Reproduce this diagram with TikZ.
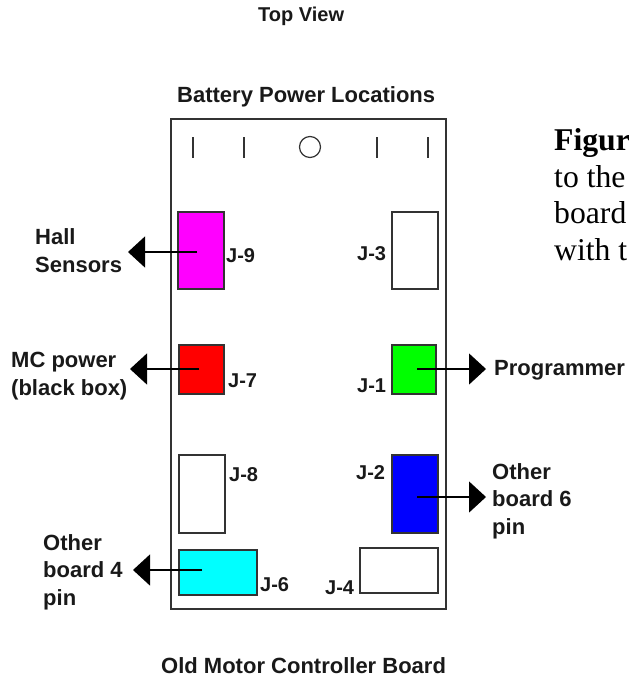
\documentclass[tikz,border=0pt]{standalone}
\usepackage{fontspec}
\setmainfont{Liberation Sans}
\newfontfamily\serifface{Liberation Serif}
\usetikzlibrary{arrows.meta}

\definecolor{boardline}{HTML}{333333}
\definecolor{hallpink}{HTML}{FF00FF}
\definecolor{powerred}{HTML}{FF0000}
\definecolor{proggreen}{HTML}{00FF00}
\definecolor{sixblue}{HTML}{0000FF}
\definecolor{fourcyan}{HTML}{00FFFF}
\tikzset{
  jack/.style={draw=boardline, line width=1.3pt, inner sep=0pt},
  lead/.style={line width=1.2pt, -{Triangle[length=17pt,width=31pt]}},
  lbl/.style={inner sep=0pt, align=left, anchor=base west,
    font=\fontsize{22}{27.5}\selectfont\bfseries, text=black!90},
  jlbl/.style={lbl, font=\fontsize{20}{24}\selectfont\bfseries}
}

\begin{document}
\begin{tikzpicture}[x=1pt,y=-1pt]
        \useasboundingbox (0,0) rectangle (629,678);

        \node[jack, minimum width=275pt, minimum height=490pt] (board) at (308.5,364) {};

        \draw[boardline, line width=1.2pt] (193,137) -- (193,158);
        \draw[boardline, line width=1.2pt] (244,137) -- (244,158);
        \draw[boardline, line width=1.2pt] (377,137) -- (377,158);
        \draw[boardline, line width=1.2pt] (428,137) -- (428,158);
        \draw[boardline, line width=1.2pt] (310,147) circle (10.5pt);

        \begin{scope}[every node/.style={jack}]
          \node[fill=hallpink, minimum width=46pt, minimum height=77pt] (j9) at (201,250.5) {};
          \node[fill=powerred, minimum width=45pt, minimum height=49pt] (j7) at (201.5,369.5) {};
          \node[minimum width=46pt, minimum height=77pt] (j3) at (415,250.5) {};
          \node[fill=proggreen, minimum width=44pt, minimum height=49pt] (j1) at (414,369.5) {};
          \node[minimum width=46pt, minimum height=78pt] (j8) at (202,494) {};
          \node[fill=sixblue, minimum width=46pt, minimum height=78pt] (j2) at (415,494) {};
          \node[fill=fourcyan, minimum width=78pt, minimum height=45pt] (j6) at (218,572.5) {};
          \node[minimum width=78pt, minimum height=45pt] (j4) at (399,570.5) {};
        \end{scope}

        \coordinate (hallin)   at (197,252);
        \coordinate (hall)     at (128,252);
        \coordinate (powerin)  at (199,369);
        \coordinate (power)    at (130,369);
        \coordinate (progin)   at (417,369);
        \coordinate (prog)     at (486,369);
        \coordinate (sixin)    at (417,497);
        \coordinate (six)      at (486,497);
        \coordinate (fourin)   at (202,570);
        \coordinate (four)     at (133,570);

        \draw[lead] (hallin) -- (hall);
        \draw[lead] (powerin) -- (power);
        \draw[lead] (progin) -- (prog);
        \draw[lead] (sixin) -- (six);
        \draw[lead] (fourin) -- (four);

        \begin{scope}[every node/.style={lbl}]
          \node[font=\fontsize{20}{24}\selectfont\bfseries] (topview) at (258,21) {Top View};
          \node (battery) at (177,102) {Battery Power Locations};
          \node (oldboard) at (161,673) {Old Motor Controller Board};

          \node[jlbl] (lj9) at (226,262) {J-9};
          \node[jlbl] (lj7) at (228,387) {J-7};
          \node[jlbl] (lj3) at (357,260) {J-3};
          \node[jlbl] (lj1) at (357,392) {J-1};
          \node[jlbl] (lj8) at (229,481) {J-8};
          \node[jlbl] (lj2) at (356,479) {J-2};
          \node[jlbl] (lj6) at (260,591) {J-6};
          \node[jlbl] (lj4) at (325,594) {J-4};

          \node (lhall) at (35,272) {Hall\\Sensors};
          \node (lpower) at (11,395) {MC power\\(black box)};
          \node (lprog) at (494,375) {Programmer};
          \node (lsix) at (492,534) {Other\\board 6\\pin};
          \node (lfour) at (43,605) {Other\\board 4\\pin};
        \end{scope}

        \node[inner sep=0pt, align=left, anchor=base west,
          font=\serifface\fontsize{31.7}{36.5}\selectfont] (caption) at (554,260)
          {\textbf{Figur}\\to the\\board\\with t};

      \end{tikzpicture}
\end{document}
